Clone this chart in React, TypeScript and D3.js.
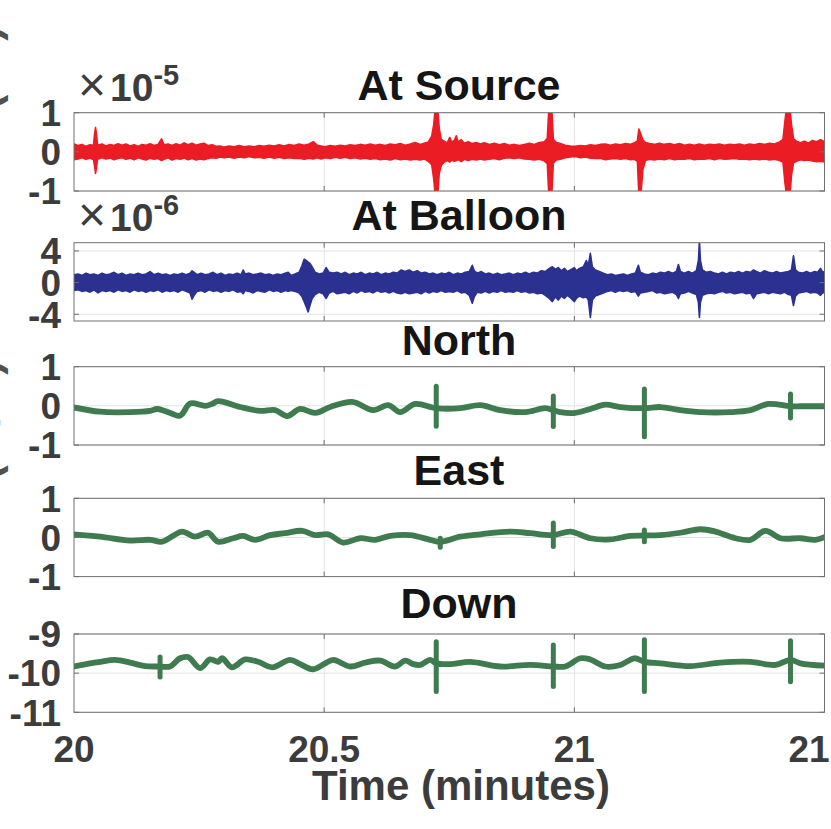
import React from "react";
import * as d3 from "d3";

// ---------- data ----------
const timeTicks = [20, 20.5, 21, 21.5];
const timeTickLabels = ["20", "20.5", "21", "21.5"];
const panelTitles = ["At Source", "At Balloon", "North", "East", "Down"];
const yDomains = [[-1, 1], [-4.85, 5.05], [-1, 1], [-1, 1], [-11, -9]];
const yTickValues = [[-1, 0, 1], [-4, 0, 4], [-1, 0, 1], [-1, 0, 1], [-11, -10, -9]];
const yExponents = ["-5", "-6", null, null, null];

// pressure at source, envelope [time (min), upper, lower] in units of 1e-5
const sourceEnvelope = [
  [20.000, .20, -.20], [20.008, .16, -.18], [20.016, .19, -.15], [20.024, .14, -.19], [20.032, .18, -.16],
  [20.039, .17, -.20], [20.041, .45, -.35], [20.043, .62, -.55], [20.045, .45, -.40], [20.047, .17, -.19],
  [20.056, .20, -.15], [20.064, .15, -.18], [20.072, .19, -.16], [20.080, .16, -.20], [20.088, .21, -.17],
  [20.096, .17, -.15], [20.104, .20, -.19], [20.112, .15, -.16], [20.120, .18, -.20], [20.128, .14, -.15],
  [20.136, .19, -.18], [20.144, .17, -.21], [20.152, .21, -.16], [20.160, .16, -.19], [20.168, .19, -.17],
  [20.175, .33, -.22], [20.180, .18, -.19], [20.188, .20, -.15], [20.196, .16, -.21], [20.204, .21, -.17],
  [20.212, .17, -.19], [20.220, .23, -.16], [20.228, .18, -.20], [20.236, .22, -.17], [20.244, .17, -.21],
  [20.252, .20, -.18], [20.260, .22, -.20], [20.268, .16, -.17], [20.276, .18, -.15], [20.284, .14, -.16],
  [20.292, .15, -.13], [20.300, .12, -.15], [20.310, .15, -.13], [20.320, .13, -.16], [20.330, .16, -.13],
  [20.340, .13, -.15], [20.350, .15, -.12], [20.360, .13, -.15], [20.370, .16, -.14], [20.380, .14, -.16],
  [20.390, .17, -.13], [20.400, .15, -.16], [20.410, .18, -.14], [20.420, .15, -.17], [20.430, .19, -.15],
  [20.440, .16, -.17], [20.450, .20, -.16], [20.460, .17, -.19], [20.470, .20, -.16], [20.478, .26, -.18],
  [20.486, .17, -.15], [20.494, .15, -.18], [20.502, .13, -.15], [20.512, .16, -.17], [20.522, .14, -.14],
  [20.532, .17, -.16], [20.542, .15, -.14], [20.552, .18, -.17], [20.562, .16, -.15], [20.572, .19, -.18],
  [20.582, .17, -.16], [20.592, .20, -.19], [20.602, .17, -.17], [20.612, .19, -.20], [20.622, .16, -.18],
  [20.632, .20, -.21], [20.642, .18, -.17], [20.652, .21, -.20], [20.662, .17, -.18], [20.672, .20, -.21],
  [20.682, .24, -.19], [20.692, .19, -.21], [20.700, .22, -.18], [20.708, .25, -.24], [20.715, .40, -.33],
  [20.719, .70, -.70], [20.722, 1.10, -1.10], [20.727, 1.10, -1.10], [20.730, .60, -.55], [20.734, .32, -.35],
  [20.740, .27, -.26], [20.746, .23, -.22], [20.751, .37, -.26], [20.755, .25, -.21], [20.760, .29, -.24],
  [20.764, .41, -.22], [20.768, .25, -.20], [20.774, .31, -.25], [20.780, .22, -.19], [20.788, .26, -.22],
  [20.796, .21, -.19], [20.804, .24, -.21], [20.812, .20, -.18], [20.820, .23, -.21], [20.830, .19, -.19],
  [20.840, .22, -.17], [20.850, .18, -.20], [20.860, .21, -.16], [20.870, .17, -.15], [20.880, .19, -.17],
  [20.890, .16, -.15], [20.900, .19, -.18], [20.910, .22, -.19], [20.920, .19, -.21], [20.930, .24, -.19],
  [20.940, .26, -.23], [20.946, .35, -.30], [20.949, 1.10, -1.10], [20.955, 1.10, -1.10], [20.958, .32, -.28],
  [20.964, .24, -.21], [20.972, .21, -.19], [20.982, .17, -.15], [20.992, .15, -.13], [21.002, .14, -.12],
  [21.012, .16, -.15], [21.022, .15, -.13], [21.032, .18, -.16], [21.042, .16, -.17], [21.052, .19, -.16],
  [21.062, .20, -.20], [21.072, .17, -.18], [21.082, .20, -.17], [21.092, .18, -.19], [21.102, .21, -.17],
  [21.112, .19, -.20], [21.120, .23, -.19], [21.126, .28, -.24], [21.129, .58, -1.10], [21.133, .45, -1.10],
  [21.137, .30, -.45], [21.142, .24, -.22], [21.150, .21, -.19], [21.160, .19, -.21], [21.170, .22, -.18],
  [21.180, .19, -.20], [21.190, .21, -.17], [21.200, .18, -.20], [21.210, .21, -.18], [21.220, .17, -.19],
  [21.230, .19, -.17], [21.240, .17, -.20], [21.250, .20, -.18], [21.260, .17, -.19], [21.270, .19, -.17],
  [21.280, .18, -.20], [21.290, .20, -.17], [21.300, .17, -.19], [21.310, .19, -.18], [21.320, .18, -.17],
  [21.330, .20, -.19], [21.340, .17, -.18], [21.350, .20, -.20], [21.360, .18, -.18], [21.370, .21, -.20],
  [21.380, .19, -.18], [21.390, .22, -.21], [21.400, .20, -.19], [21.410, .25, -.22], [21.417, .32, -.26],
  [21.421, .80, -.80], [21.424, 1.10, -1.10], [21.431, 1.10, -1.10], [21.434, .70, -.60], [21.438, .34, -.28],
  [21.444, .27, -.24], [21.452, .23, -.20], [21.460, .27, -.22], [21.468, .22, -.21], [21.476, .29, -.23],
  [21.484, .26, -.25], [21.492, .31, -.24], [21.500, .26, -.26],
];

// pressure at balloon, envelope [time, upper, lower] in units of 1e-6
const balloonEnvelope = [
  [20.000, 1.0, -1.0], [20.008, 1.1, -0.9], [20.016, 0.9, -1.1], [20.024, 1.2, -1.0], [20.032, 1.0, -1.2],
  [20.040, 1.1, -0.9], [20.048, 0.9, -1.3], [20.056, 1.2, -1.0], [20.064, 1.0, -1.1], [20.072, 1.1, -1.0],
  [20.080, 1.3, -1.2], [20.088, 1.0, -0.9], [20.096, 1.2, -1.1], [20.104, 0.9, -1.0], [20.112, 1.1, -1.2],
  [20.120, 1.0, -0.9], [20.128, 1.2, -1.1], [20.136, 1.0, -1.0], [20.144, 1.1, -1.2], [20.152, 1.4, -1.0],
  [20.160, 1.0, -1.1], [20.168, 1.2, -0.9], [20.176, 1.0, -1.2], [20.184, 1.1, -1.0], [20.192, 0.9, -1.1],
  [20.200, 1.1, -1.0], [20.208, 1.0, -1.2], [20.216, 1.2, -0.9], [20.224, 1.0, -1.1], [20.232, 1.2, -1.3],
  [20.236, 1.5, -2.1], [20.240, 1.3, -1.6], [20.246, 1.0, -1.1], [20.254, 1.2, -1.0], [20.262, 1.0, -1.2],
  [20.270, 1.1, -0.9], [20.278, 1.3, -1.1], [20.286, 1.0, -1.0], [20.294, 1.2, -1.2], [20.302, 0.9, -1.0],
  [20.310, 1.1, -1.1], [20.318, 1.0, -0.9], [20.326, 1.2, -1.2], [20.334, 1.0, -1.1], [20.338, 1.6, -1.4],
  [20.342, 1.1, -1.0], [20.350, 1.2, -1.1], [20.358, 1.0, -1.3], [20.366, 1.1, -1.0], [20.374, 1.2, -1.1],
  [20.382, 1.0, -1.2], [20.390, 1.1, -0.9], [20.398, 0.9, -1.1], [20.406, 1.1, -1.0], [20.414, 1.0, -1.2],
  [20.422, 1.2, -1.0], [20.428, 1.3, -1.1], [20.434, 0.9, -1.0], [20.442, 1.1, -1.1], [20.450, 1.3, -1.3],
  [20.456, 2.2, -1.8], [20.460, 2.95, -2.4], [20.464, 2.8, -3.0], [20.468, 2.6, -3.7], [20.472, 2.4, -2.8],
  [20.476, 2.0, -2.0], [20.482, 1.3, -1.5], [20.490, 1.1, -1.2], [20.498, 1.2, -1.4], [20.504, 1.9, -2.0],
  [20.510, 1.3, -1.3], [20.518, 1.2, -1.1], [20.526, 1.3, -1.4], [20.534, 1.1, -1.3], [20.542, 1.3, -1.2],
  [20.550, 1.0, -1.4], [20.558, 1.2, -1.1], [20.566, 1.1, -1.3], [20.574, 1.3, -1.0], [20.582, 1.0, -1.2],
  [20.590, 1.2, -1.1], [20.598, 1.1, -1.3], [20.606, 1.3, -1.0], [20.614, 1.0, -1.2], [20.622, 1.2, -1.1],
  [20.630, 1.1, -1.3], [20.638, 1.3, -1.1], [20.646, 1.2, -1.3], [20.654, 1.6, -1.4], [20.662, 1.4, -1.2],
  [20.670, 1.6, -1.4], [20.678, 1.3, -1.3], [20.686, 1.5, -1.2], [20.694, 1.2, -1.4], [20.702, 1.3, -1.1],
  [20.710, 1.1, -1.3], [20.718, 1.2, -1.1], [20.726, 1.0, -1.2], [20.734, 1.2, -1.0], [20.742, 1.1, -1.2],
  [20.750, 1.3, -1.1], [20.758, 1.0, -1.2], [20.766, 1.2, -1.0], [20.774, 1.1, -1.3], [20.782, 1.3, -1.2],
  [20.790, 1.4, -1.6], [20.796, 2.2, -2.6], [20.800, 1.5, -1.8], [20.806, 1.2, -1.2], [20.814, 1.4, -1.3],
  [20.822, 1.1, -1.1], [20.830, 1.2, -1.3], [20.838, 1.0, -1.1], [20.846, 1.2, -1.2], [20.854, 1.0, -1.0],
  [20.862, 1.1, -1.2], [20.870, 1.2, -1.1], [20.878, 1.0, -1.2], [20.886, 1.2, -1.0], [20.894, 1.1, -1.2],
  [20.902, 1.3, -1.1], [20.910, 1.1, -1.3], [20.918, 1.3, -1.2], [20.926, 1.2, -1.4], [20.934, 1.5, -1.3],
  [20.942, 1.4, -1.6], [20.950, 1.8, -2.0], [20.956, 2.0, -2.4], [20.962, 1.7, -1.8], [20.968, 1.9, -2.2],
  [20.974, 1.5, -1.7], [20.980, 1.8, -2.0], [20.986, 1.4, -1.6], [20.992, 1.6, -1.9], [21.000, 1.9, -2.4],
  [21.004, 1.5, -2.0], [21.010, 1.8, -1.7], [21.018, 2.0, -1.9], [21.024, 2.8, -1.8], [21.028, 2.2, -2.2],
  [21.032, 3.7, -4.4], [21.036, 2.0, -2.2], [21.042, 1.6, -1.7], [21.050, 1.4, -1.5], [21.058, 1.2, -1.3],
  [21.066, 1.0, -1.1], [21.074, 1.1, -1.0], [21.082, 0.9, -1.2], [21.090, 1.0, -1.0], [21.098, 1.1, -1.1],
  [21.106, 0.9, -1.0], [21.114, 1.1, -1.2], [21.122, 1.2, -1.1], [21.128, 2.2, -1.7], [21.132, 1.3, -1.3],
  [21.140, 1.1, -1.2], [21.148, 1.0, -1.1], [21.156, 1.2, -1.0], [21.164, 1.1, -1.3], [21.172, 1.3, -1.2],
  [21.180, 1.2, -1.4], [21.188, 1.4, -1.3], [21.196, 1.2, -1.2], [21.204, 1.4, -1.5], [21.208, 2.3, -2.0],
  [21.212, 1.4, -1.4], [21.220, 1.2, -1.3], [21.228, 1.4, -1.1], [21.236, 1.2, -1.3], [21.244, 1.5, -1.5],
  [21.248, 2.8, -2.5], [21.250, 5.3, -4.4], [21.252, 2.8, -2.5], [21.256, 1.6, -1.6], [21.264, 1.3, -1.4],
  [21.272, 1.4, -1.3], [21.280, 1.2, -1.4], [21.288, 1.1, -1.2], [21.296, 1.3, -1.1], [21.304, 1.1, -1.3],
  [21.312, 1.3, -1.2], [21.320, 1.2, -1.4], [21.328, 1.4, -1.3], [21.336, 1.2, -1.2], [21.344, 1.4, -1.4],
  [21.352, 1.3, -1.3], [21.358, 1.6, -2.0], [21.364, 1.4, -1.4], [21.372, 1.2, -1.3], [21.380, 1.5, -1.2],
  [21.388, 1.3, -1.4], [21.396, 1.2, -1.2], [21.404, 1.4, -1.3], [21.412, 1.2, -1.4], [21.420, 1.3, -1.2],
  [21.428, 1.4, -1.5], [21.434, 1.6, -1.6], [21.438, 3.4, -2.9], [21.442, 1.6, -1.7], [21.448, 1.3, -1.3],
  [21.456, 1.2, -1.2], [21.464, 1.4, -1.1], [21.472, 1.2, -1.3], [21.480, 1.4, -1.2], [21.486, 1.3, -1.3],
  [21.492, 1.8, -1.6], [21.496, 1.4, -1.3], [21.500, 1.3, -1.2],
];

// acceleration components, [time, value] in m/s^2
const northTrace = [
  [20.000, -0.04], [20.052, -0.15], [20.112, -0.16], [20.152, -0.13], [20.166, -0.08],
  [20.182, -0.13], [20.212, -0.25], [20.232, 0.06], [20.262, 0.0], [20.276, 0.05],
  [20.288, 0.12], [20.332, -0.03], [20.372, -0.13], [20.402, -0.11], [20.426, -0.26],
  [20.452, -0.08], [20.482, -0.18], [20.512, -0.03], [20.556, 0.10], [20.598, -0.11],
  [20.628, 0.02], [20.652, -0.16], [20.682, 0.05], [20.724, -0.06], [20.772, -0.06],
  [20.812, 0.02], [20.852, -0.11], [20.902, -0.16], [20.942, -0.06], [20.958, -0.11],
  [20.972, -0.16], [21.002, -0.18], [21.032, -0.08], [21.062, 0.03], [21.092, -0.03],
  [21.140, -0.06], [21.172, -0.03], [21.212, -0.11], [21.252, -0.16], [21.312, -0.16],
  [21.352, -0.11], [21.388, 0.05], [21.432, -0.01], [21.452, -0.01], [21.500, -0.01],
];
const northSpikes = [[20.724, 0.50, -0.52], [20.958, 0.25, -0.53], [21.140, 0.43, -0.79], [21.432, 0.30, -0.31]];

const eastTrace = [
  [20.000, 0.08], [20.052, 0.02], [20.112, -0.08], [20.152, -0.06], [20.176, -0.11],
  [20.198, 0.04], [20.216, 0.15], [20.242, 0.02], [20.268, 0.12], [20.288, -0.11],
  [20.318, -0.02], [20.338, 0.04], [20.362, -0.06], [20.392, 0.06], [20.422, 0.11],
  [20.456, 0.17], [20.482, 0.06], [20.508, 0.08], [20.538, -0.13], [20.572, -0.02],
  [20.602, -0.06], [20.632, 0.04], [20.672, 0.06], [20.712, -0.06], [20.732, -0.11],
  [20.772, 0.02], [20.812, 0.08], [20.872, 0.15], [20.912, 0.11], [20.958, 0.06],
  [20.992, 0.15], [21.032, -0.02], [21.072, -0.05], [21.112, 0.04], [21.140, 0.05],
  [21.172, 0.06], [21.212, 0.12], [21.252, 0.21], [21.282, 0.15], [21.322, -0.02],
  [21.352, -0.06], [21.382, 0.17], [21.412, -0.02], [21.452, -0.02], [21.482, -0.06],
  [21.500, 0.01],
];
const eastSpikes = [[20.732, -0.02, -0.25], [20.958, 0.37, -0.23], [21.140, 0.19, -0.11]];

const downTrace = [
  [20.000, -9.83], [20.032, -9.75], [20.052, -9.71], [20.082, -9.66], [20.112, -9.73],
  [20.142, -9.82], [20.172, -9.83], [20.192, -9.83], [20.212, -9.62], [20.228, -9.59],
  [20.252, -9.87], [20.272, -9.65], [20.288, -9.71], [20.296, -9.62], [20.316, -9.85],
  [20.342, -9.65], [20.368, -9.71], [20.396, -9.85], [20.432, -9.66], [20.452, -9.77],
  [20.478, -9.90], [20.502, -9.75], [20.518, -9.66], [20.552, -9.83], [20.582, -9.73],
  [20.612, -9.68], [20.642, -9.83], [20.662, -9.68], [20.678, -9.77], [20.692, -9.79],
  [20.712, -9.66], [20.724, -9.75], [20.752, -9.77], [20.792, -9.71], [20.852, -9.83],
  [20.912, -9.79], [20.958, -9.83], [20.982, -9.83], [21.012, -9.62], [21.032, -9.65],
  [21.062, -9.83], [21.092, -9.79], [21.120, -9.62], [21.140, -9.71], [21.172, -9.75],
  [21.232, -9.82], [21.292, -9.73], [21.352, -9.71], [21.402, -9.79], [21.432, -9.66],
  [21.452, -9.75], [21.500, -9.81],
];
const downSpikes = [[20.172, -9.59, -10.10], [20.724, -9.20, -10.47], [20.958, -9.28, -10.34], [21.140, -9.15, -10.47], [21.432, -9.17, -10.22]];

const envelopes = [sourceEnvelope, balloonEnvelope];
const traces = [northTrace, eastTrace, downTrace];
const spikeSets = [northSpikes, eastSpikes, downSpikes];
const envelopeColors = ["#ec1c24", "#2b3190"];
const traceColor = "#3e7b4e";

export default function App() {
  const W = 831, H = 829;
  const left = 74, right = 824.5;
  const tops = [112.7, 242.7, 366.7, 498.3, 634];
  const ph = 78.3;
  const titleY = [100, 230, 355, 485, 618];
  const font = "'Liberation Sans', Arial, Helvetica, sans-serif";
  const tickColor = "#3c3c3c";
  const boxColor = "#707070";
  const gridColor = "#e3e3e3";

  const x = d3.scaleLinear().domain([20, 21.5]).range([left, right]);

  const panels = panelTitles.map((title, i) => {
    const top = tops[i];
    const bottom = top + ph;
    const y = d3.scaleLinear().domain(yDomains[i]).range([bottom, top]);
    const clipId = `clip-${i}`;
    let marks: React.ReactNode = null;
    if (i < 2) {
      const area = d3
        .area<number[]>()
        .x((d) => x(d[0]))
        .y0((d) => y(d[2]))
        .y1((d) => y(d[1]));
      marks = (
        <path
          d={area(envelopes[i] as number[][]) || ""}
          fill={envelopeColors[i]}
          stroke={envelopeColors[i]}
          strokeWidth={1.6}
          strokeLinejoin="round"
        />
      );
    } else {
      const line = d3
        .line<number[]>()
        .x((d) => x(d[0]))
        .y((d) => y(d[1]))
        .curve(d3.curveCatmullRom.alpha(0.5));
      const straight = d3
        .line<number[]>()
        .x((d) => x(d[0]))
        .y((d) => y(d[1]));
      const spikes = spikeSets[i - 2];
      marks = (
        <g>
          <path
            d={line(traces[i - 2] as number[][]) || ""}
            fill="none"
            stroke={traceColor}
            strokeWidth={5.8}
            strokeLinejoin="round"
            strokeLinecap="round"
          />
          {spikes.map((s, k) => (
            <path
              key={k}
              d={straight([[s[0], s[1]], [s[0], s[2]]]) || ""}
              fill="none"
              stroke={traceColor}
              strokeWidth={5}
              strokeLinecap="round"
            />
          ))}
        </g>
      );
    }
    const innerX = timeTicks.filter((t) => t > 20 && t < 21.5);
    return (
      <g key={i}>
        <defs>
          <clipPath id={clipId}>
            <rect x={left} y={top} width={right - left} height={ph} />
          </clipPath>
        </defs>
        {innerX.map((t) => (
          <line key={"gx" + t} x1={x(t)} x2={x(t)} y1={top} y2={bottom} stroke={gridColor} strokeWidth={1} />
        ))}
        {yTickValues[i].map((v) => (
          <line key={"gy" + v} x1={left} x2={right} y1={y(v)} y2={y(v)} stroke={gridColor} strokeWidth={1} />
        ))}
        <g clipPath={`url(#${clipId})`}>{marks}</g>
        <rect x={left} y={top} width={right - left} height={ph} fill="none" stroke={boxColor} strokeWidth={1} />
        {innerX.map((t) => (
          <g key={"tx" + t}>
            <line x1={x(t)} x2={x(t)} y1={bottom} y2={bottom - 5} stroke={boxColor} />
            <line x1={x(t)} x2={x(t)} y1={top} y2={top + 5} stroke={boxColor} />
          </g>
        ))}
        {yTickValues[i].map((v) => (
          <g key={"ty" + v}>
            <line x1={left} x2={left + 5} y1={y(v)} y2={y(v)} stroke={boxColor} />
            <line x1={right} x2={right - 5} y1={y(v)} y2={y(v)} stroke={boxColor} />
          </g>
        ))}
        {yTickValues[i].map((v) => (
          <text
            key={"yl" + v}
            x={61}
            y={y(v)}
            dy="0.36em"
            textAnchor="end"
            fontFamily={font}
            fontWeight="bold"
            fontSize={37}
            fill={tickColor}
          >
            {String(v)}
          </text>
        ))}
        {yExponents[i] && (
          <text x={78} y={top - 11.5} fontFamily={font} fontWeight="bold" fontSize={39} fill={tickColor}>
            <tspan fontWeight="normal" fontSize={48}>×</tspan>
            <tspan dx={4}>10</tspan>
            <tspan dy={-16} fontSize={29}>{yExponents[i]}</tspan>
          </text>
        )}
        <text
          x={459}
          y={titleY[i]}
          textAnchor="middle"
          fontFamily={font}
          fontWeight="bold"
          fontSize={43}
          fill="#151515"
        >
          {title}
        </text>
      </g>
    );
  });

  return (
    <svg
      width={W}
      height={H}
      viewBox={`0 0 ${W} ${H}`}
      style={{ position: "absolute", left: 0, top: 0, background: "#fff" }}
    >
      <rect x={0} y={0} width={W} height={H} fill="#fff" />
      <text
        transform="translate(-1, 26) rotate(-90)"
        textAnchor="end"
        fontFamily={font}
        fontWeight="bold"
        fontSize={44}
        fill="#505050"
      >
        Pressure (Pa)
      </text>
      <text
        transform="translate(-1, 360) rotate(-90)"
        textAnchor="end"
        fontFamily={font}
        fontWeight="bold"
        fontSize={44}
        fill="#505050"
      >
        Acceleration (m/s²)
      </text>
      {panels}
      {timeTicks.map((t, k) => (
        <text
          key={"xt" + t}
          x={x(t)}
          y={762}
          textAnchor="middle"
          fontFamily={font}
          fontWeight="bold"
          fontSize={37}
          fill={tickColor}
        >
          {timeTickLabels[k]}
        </text>
      ))}
      <text
        x={461}
        y={800}
        textAnchor="middle"
        fontFamily={font}
        fontWeight="bold"
        fontSize={42}
        fill={tickColor}
      >
        Time (minutes)
      </text>
    </svg>
  );
}
